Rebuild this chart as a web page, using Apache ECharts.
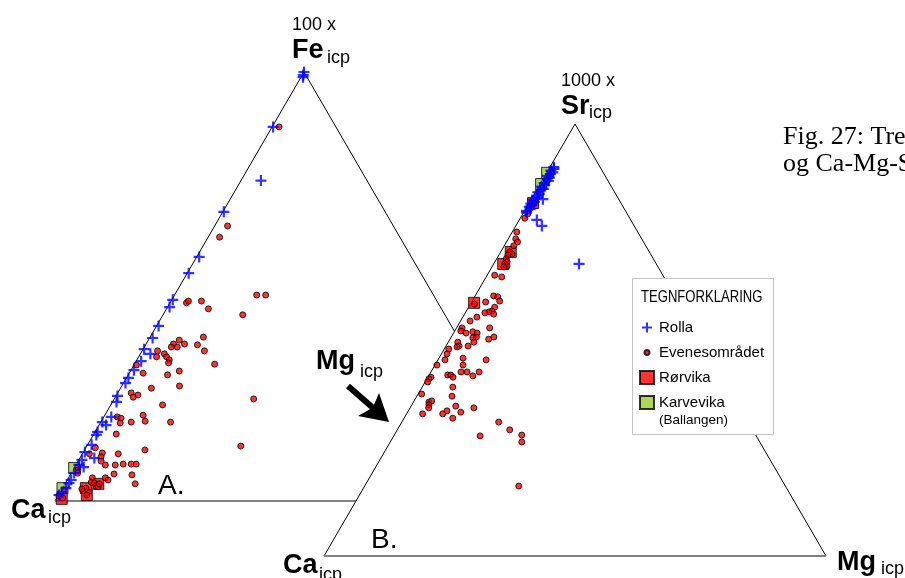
<!DOCTYPE html>
<html><head><meta charset="utf-8">
<script src="https://cdn.jsdelivr.net/npm/echarts/dist/echarts.min.js"></script>
<style>html,body{margin:0;padding:0;background:#fff;}#c{width:905px;height:578px;}</style>
</head><body><div id="c"></div>
<script>
// Legend categories
const categories = ['Rolla', 'Evenesområdet', 'Rørvika', 'Karvevika'];

// Diagram A (Ca - Fe - Mg): each point = [Fe %, Mg %], Ca = rest
const rollaA = [[100,0],[99.3,0.2],[98.8,0.4],[87.2,0.2],[74.7,4.0],[67.4,0.2],[56.9,0.5],[53.1,0.3],[46.9,0.2],[45.2,0.4],[40.8,0.4],[38.0,0.6],[35.4,0.2],[34.3,2.0],[32.6,1.0],[30.5,0.6],[28.7,0.4],[27.5,0.4],[24.5,0.3],[23.1,0.8],[19.6,1.5],[18.4,0.3],[17.7,1.4],[16.1,0.5],[15.4,0.6],[13.1,0.8],[11.4,0.3],[10.0,2.9],[9.6,0.6],[8.4,0.6],[7.9,1.8],[6.5,0.6],[4.9,0.8],[4.2,0.7],[3.0,0.7],[2.1,0.4],[1.4,0.1]];
const evenesA = [[87.2,1.4],[64.1,2.6],[61.5,2.3],[48.0,16.5],[48.0,18.3],[46.2,3.3],[46.6,3.5],[46.6,6.1],[44.8,8.4],[43.4,16.0],[38.2,10.7],[37.5,6.2],[36.6,5.5],[35.9,5.4],[35.9,6.6],[36.6,7.7],[36.4,10.4],[35.0,12.5],[35.0,3.1],[34.3,4.8],[33.6,3.6],[33.6,5.6],[32.9,6.5],[32.2,6.7],[31.9,16.1],[31.7,0.5],[29.8,2.8],[30.3,9.8],[29.4,7.9],[26.8,11.6],[26.3,6.2],[25.2,2.7],[24.7,4.3],[24.2,3.6],[23.8,28.0],[22.4,10.4],[20.0,7.7],[18.4,14.0],[18.6,8.8],[18.4,6.1],[19.6,2.7],[19.3,3.6],[18.2,4.0],[15.6,4.5],[12.8,30.9],[11.9,12.1],[11.0,7.2],[12.4,1.9],[11.0,1.4],[11.2,3.9],[10.3,4.1],[9.3,4.6],[8.4,5.9],[8.4,7.9],[8.6,9.4],[8.6,11.0],[8.6,12.0],[6.3,8.7],[5.4,7.4],[4.9,8.2],[6.1,12.4],[4.0,14.1],[7.9,0.6],[7.2,1.0],[6.5,1.3],[5.4,4.8],[4.4,5.1],[3.0,4.7],[2.8,4.0],[4.2,5.8],[3.5,6.5],[3.3,7.0],[4.0,6.9],[1.4,5.7],[2.6,0.5],[1.2,0.2],[0.7,1.2]];
const rorvikaA = [[0.5,1.1],[3.0,4.7],[1.4,5.7],[4.0,6.7]];
const karvevikaA = [[7.7,0],[3.0,0]];

// Diagram B (Ca - Sr - Mg): each point = [Sr %, Mg %], Ca = rest
const rollaB = [[90.0,0.8],[89.6,1.0],[89.2,0.6],[88.8,1.2],[88.4,0.9],[88.0,0.5],[87.6,1.1],[87.2,0.8],[86.8,1.3],[86.3,0.7],[85.9,1.0],[85.5,0.6],[85.0,1.2],[84.6,0.8],[84.2,0.5],[83.7,1.0],[83.3,0.7],[82.9,1.1],[82.4,0.3],[82.0,0.9],[81.6,0.4],[81.2,0.8],[80.8,0.5],[80.3,0.9],[79.9,0.4],[79.5,0.6],[82.6,2.3],[77.8,3.5],[76.4,5.2],[67.6,17.0]];
const evenesB = [[81.7,1.0],[78.2,0.9],[79.2,1.0],[75.0,0.9],[73.4,1.5],[72.7,2.2],[71.8,1.9],[70.4,1.8],[69.9,2.5],[69.7,1.8],[68.8,1.9],[68.1,2.4],[67.6,2.2],[67.1,2.9],[66.9,2.4],[65.0,1.5],[64.6,3.1],[60.2,3.7],[60.0,4.6],[59.0,5.5],[58.8,2.8],[58.3,0.8],[57.6,5.2],[56.7,5.1],[56.5,4.6],[56.3,3.9],[56.0,5.8],[55.3,2.8],[54.4,1.9],[52.8,6.6],[52.8,1.1],[52.1,1.2],[51.6,2.5],[51.9,3.7],[51.6,4.7],[50.7,5.0],[50.5,4.4],[49.5,5.1],[50.2,7.7],[50.7,8.5],[49.5,1.9],[48.6,2.6],[48.4,2.3],[48.6,4.4],[47.9,0.9],[46.8,1.1],[45.4,1.4],[45.8,4.8],[44.2,5.6],[45.4,9.6],[44.2,0.4],[42.6,6.0],[42.6,7.2],[41.7,8.8],[42.6,9.6],[41.9,3.7],[41.9,4.3],[41.4,5.0],[41.4,0.6],[41.0,0.4],[40.3,0.5],[39.1,6.1],[37.5,0.7],[37.0,7.0],[35.6,3.1],[35.9,3.5],[35.0,3.4],[34.3,3.7],[34.7,8.9],[34.3,12.7],[33.6,7.7],[33.3,10.6],[32.9,7.2],[32.9,3.2],[31.9,9.7],[31.0,19.3],[29.2,22.4],[28.0,25.4],[27.8,17.2],[26.4,26.2],[16.2,30.7]];
const rorvikaB = [[81.7,0.8],[70.4,2.0],[67.6,1.9],[58.6,0.6]];
const karvevikaB = [[88.7,0.1],[86.1,0.2]];

// Triangle outline in ternary space (x = Mg + top/2, y = top)
const triangle = [[0,0],[50,100],[100,0]];
const baseLine = [[0,0],[100,0]];

// ternary [top %, Mg %] -> plot coordinates
const tern = arr => arr.map(p => [p[1] + p[0] / 2, p[0]]);

const plusPath = 'path://M4,0H6V4H10V6H6V10H4V6H0V4H4Z';
const plusIcon = 'path://M0,0L0.01,0M14,13L14.01,13M6,1.5H8V5.5H12V7.5H8V11.5H6V7.5H2V5.5H6Z';
const dotIcon = 'path://M0,0L0.01,0M14,13L14.01,13M4.5,6.5A2.5,2.5 0 1,1 9.5,6.5A2.5,2.5 0 1,1 4.5,6.5Z';

const styles = {
  'Rolla': {symbol: plusPath, symbolSize: 11, itemStyle: {color: '#0000ff'}},
  'Evenesområdet': {symbol: 'circle', symbolSize: 6, itemStyle: {color: '#ff0000', borderColor: '#000', borderWidth: 1}},
  'Rørvika': {symbol: 'rect', symbolSize: 11, itemStyle: {color: '#ff0000', borderColor: '#000', borderWidth: 1}},
  'Karvevika': {symbol: 'rect', symbolSize: 11, itemStyle: {color: '#99cc33', borderColor: '#000', borderWidth: 1}}
};
function scatter(name, data, idx, z) {
  return Object.assign({type: 'scatter', name: name, data: tern(data), xAxisIndex: idx, yAxisIndex: idx, z: z, silent: true, animation: false}, styles[name]);
}
function lineS(data, idx, z, color, width, area) {
  const s = {type: 'line', data: data, xAxisIndex: idx, yAxisIndex: idx, z: z, symbol: 'none', silent: true, animation: false,
    lineStyle: {color: color, width: width}};
  if (area) s.areaStyle = {color: '#fff', opacity: 1};
  return s;
}
const font = 'Liberation Sans';
function txt(x, y, text, size, bold, extra, family) {
  return Object.assign({type: 'text', x: x, y: y, z: 7, style: {text: text, fill: '#000',
    font: (bold ? 'bold ' : '') + size + 'px "' + (family || font) + '"', textAlign: 'left', align: 'left', textVerticalAlign: 'middle', verticalAlign: 'middle'}}, extra || {});
}

const chart = echarts.init(document.getElementById('c'), null, {renderer: 'canvas'});
chart.setOption({
  backgroundColor: '#fff',
  animation: false,
  grid: [
    {left: 55, top: 72, width: 498, height: 429},
    {left: 324, top: 124, width: 502, height: 432}
  ],
  xAxis: [
    {type: 'value', min: 0, max: 100, show: false, gridIndex: 0},
    {type: 'value', min: 0, max: 100, show: false, gridIndex: 1}
  ],
  yAxis: [
    {type: 'value', min: 0, max: 100, show: false, gridIndex: 0},
    {type: 'value', min: 0, max: 100, show: false, gridIndex: 1}
  ],
  legend: {
    orient: 'vertical', left: 639, top: 320, padding: 0, itemWidth: 14, itemHeight: 13, itemGap: 10,
    selectedMode: false, z: 6,
    textStyle: {fontFamily: font, fontSize: 15, color: '#000', lineHeight: 13},
    data: [
      {name: categories[0], icon: plusIcon},
      {name: categories[1], icon: dotIcon},
      {name: categories[2], icon: 'rect'},
      {name: categories[3], icon: 'rect'}
    ]
  },
  series: [
    lineS(triangle, 0, 1, '#000', 1, false),
    lineS(baseLine, 0, 1, '#808080', 2, false),
    scatter(categories[3], karvevikaA, 0, 2),
    scatter(categories[2], rorvikaA, 0, 2),
    scatter(categories[1], evenesA, 0, 2),
    scatter(categories[0], rollaA, 0, 2),
    lineS(triangle, 1, 3, '#000', 1, true),
    lineS(baseLine, 1, 3, '#808080', 2, false),
    scatter(categories[3], karvevikaB, 1, 4),
    scatter(categories[2], rorvikaB, 1, 4),
    scatter(categories[1], evenesB, 1, 4),
    scatter(categories[0], rollaB, 1, 4)
  ],
  graphic: [
    {type: 'rect', z: 5, shape: {x: 632.5, y: 278.5, width: 141, height: 156}, style: {fill: '#fff', stroke: '#c4c4c4', lineWidth: 1}},
    txt(641, 297, 'TEGNFORKLARING', 17, false, {scaleX: 0.77}),
    txt(659, 420, '(Ballangen)', 13.5, false),
    txt(292, 25.5, '100 x', 18, false),
    txt(292, 51, 'Fe', 27, true),
    txt(327, 58, 'icp', 18, false),
    txt(561, 81, '1000 x', 18, false),
    txt(561, 107, 'Sr', 27, true),
    txt(589, 113.5, 'icp', 18, false),
    txt(316, 362, 'Mg', 27, true),
    txt(360, 372, 'icp', 18, false),
    txt(11, 510.5, 'Ca', 27, true),
    txt(48, 518.5, 'icp', 18, false),
    txt(158, 486, 'A.', 28, false),
    txt(371, 540.5, 'B.', 28, false),
    txt(283, 566, 'Ca', 27, true),
    txt(319, 575.5, 'icp', 18, false),
    txt(837, 563, 'Mg', 27, true),
    txt(881, 569, 'icp', 18, false),
    txt(783, 137, 'Fig. 27: Trekantdiagram Ca-Fe-Mg', 26, false, null, 'Liberation Serif'),
    txt(783, 164, 'og Ca-Mg-Sr', 26, false, null, 'Liberation Serif'),
    {type: 'polygon', z: 7, shape: {points: [[350,383.8],[374,404.8],[379,393],[389,422],[358,416],[370,409.2],[346,388.2]]}, style: {fill: '#000'}}
  ]
});
</script></body></html>
